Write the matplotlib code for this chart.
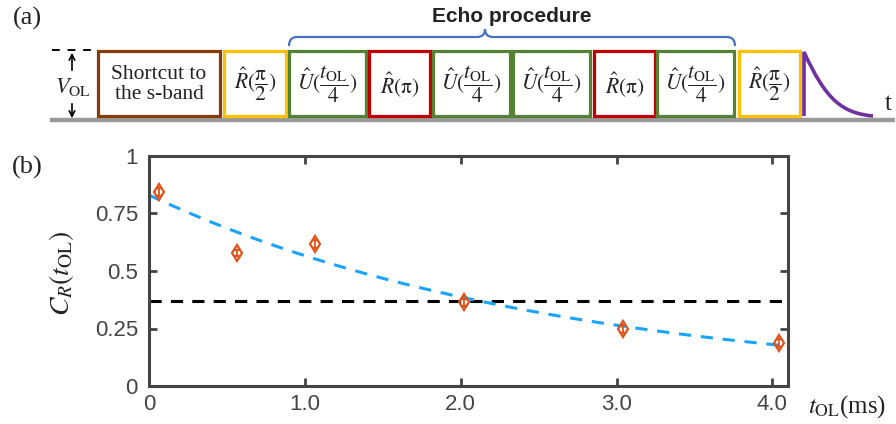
import matplotlib
matplotlib.use("Agg")
import matplotlib.pyplot as plt
import numpy as np
from matplotlib.patches import Rectangle, PathPatch
from matplotlib.path import Path

plt.rcParams["mathtext.fontset"] = "stix"
plt.rcParams["font.family"] = ["Liberation Sans", "DejaVu Sans"]

# ---- data (panel b) ----
t_ol = [0.064, 0.565, 1.066, 2.02, 3.04, 4.04]
c_r = [0.843, 0.578, 0.617, 0.365, 0.248, 0.187]
c_r_err = [0.016, 0.014, 0.016, 0.015, 0.017, 0.016]
fit_amp = 0.83
fit_tau = 2.62
threshold = 0.368
x_ticks = [0, 1.0, 2.0, 3.0, 4.0]
x_tick_labels = ["0", "1.0", "2.0", "3.0", "4.0"]
y_ticks = [0, 0.25, 0.5, 0.75, 1]
y_tick_labels = ["0", "0.25", "0.5", "0.75", "1"]

# ---- pulse sequence (panel a), pixel coordinates ----
seq_labels = ["Shortcut to\nthe s-band",
              r"$\hat{R}(\dfrac{\mathrm{\pi}}{2})$",
              r"$\hat{U}(\dfrac{t_{\mathrm{OL}}}{4})$",
              r"$\hat{R}(\mathrm{\pi})$",
              r"$\hat{U}(\dfrac{t_{\mathrm{OL}}}{4})$",
              r"$\hat{U}(\dfrac{t_{\mathrm{OL}}}{4})$",
              r"$\hat{R}(\mathrm{\pi})$",
              r"$\hat{U}(\dfrac{t_{\mathrm{OL}}}{4})$",
              r"$\hat{R}(\dfrac{\mathrm{\pi}}{2})$"]
seq_x0 = [98, 224, 289, 369, 433, 513, 594, 657, 739]
seq_x1 = [220, 286, 366, 430, 510, 590, 655, 734, 800]
seq_colors = ["#843C0C", "#FFC000", "#548235", "#C00000", "#548235",
              "#548235", "#C00000", "#548235", "#FFC000"]

W, H = 896, 424
fig = plt.figure(figsize=(W / 100, H / 100), dpi=100)

# overlay in pixel coordinates for the schematic and outer labels
ov = fig.add_axes([0, 0, 1, 1])
ov.set_xlim(0, W)
ov.set_ylim(H, 0)
ov.axis("off")

serif = ["Liberation Serif", "DejaVu Serif"]

# baseline
ov.plot([50, 895], [120, 120], color="#9A9A9A", lw=3.2, solid_capstyle="butt")

box_top, box_bot = 51, 116
for lab, x0, x1, col in zip(seq_labels, seq_x0, seq_x1, seq_colors):
    ov.add_patch(Rectangle((x0, box_top), x1 - x0, box_bot - box_top,
                           facecolor="white", edgecolor=col, lw=2.3, zorder=3))
    fs = 15.5 if "Shortcut" in lab else 15.5
    ov.text((x0 + x1) / 2, (box_top + box_bot) / 2 + 1, lab, ha="center",
            va="center", fontsize=fs, family=serif, color="#222222",
            linespacing=1.05, zorder=4)

# V_OL marker
ov.plot([52, 94], [50, 50], color="black", lw=1.4, dashes=(4, 4))
ov.annotate("", xy=(72, 50), xytext=(72, 73),
            arrowprops=dict(arrowstyle="->", color="black", lw=1.2))
ov.annotate("", xy=(72, 121), xytext=(72, 101),
            arrowprops=dict(arrowstyle="->", color="black", lw=1.2))
ov.text(73, 87, r"$V_{\mathrm{OL}}$", ha="center", va="center", fontsize=16,
        color="#222222")

# read-out decay
decay = Path([(804, 116), (804, 52), (826, 100), (842, 113), (873, 116)],
             [Path.MOVETO, Path.LINETO, Path.CURVE4, Path.CURVE4, Path.CURVE4])
ov.add_patch(PathPatch(decay, facecolor="none", edgecolor="#7030A0", lw=2.6,
                       zorder=3))
ov.text(888, 104, "t", ha="center", va="center", fontsize=18, family=serif,
        color="#222222")

# brace over the echo procedure
bx0, bx1, bmid, by, bend, btip = 289, 735, 485, 37, 46, 29
brace = Path([(bx0, bend), (bx0, by), (bx0 + 8, by),
              (bmid - 8, by), (bmid, by), (bmid, btip),
              (bmid, by), (bmid + 8, by),
              (bx1 - 8, by), (bx1, by), (bx1, bend)],
             [Path.MOVETO, Path.CURVE3, Path.CURVE3,
              Path.LINETO, Path.CURVE3, Path.CURVE3,
              Path.CURVE3, Path.CURVE3,
              Path.LINETO, Path.CURVE3, Path.CURVE3])
ov.add_patch(PathPatch(brace, facecolor="none", edgecolor="#4472C4", lw=1.6))
ov.text(512, 16, "Echo procedure", ha="center", va="center", fontsize=15,
        fontweight="bold", family=["Liberation Sans", "DejaVu Sans"],
        color="#222222")

ov.text(27, 18, "(a)", ha="center", va="center", fontsize=19, family=serif,
        color="#222222")
ov.text(27, 167, "(b)", ha="center", va="center", fontsize=19, family=serif,
        color="#222222")

# ---- panel (b) ----
ax = fig.add_axes([149 / W, 1 - 386 / H, (788 - 149) / W, (386 - 156) / H])
ax.set_xlim(0, 4.1)
ax.set_ylim(0, 1)

ax.plot([0, 4.1], [threshold, threshold], color="black", lw=2.2,
        dashes=(4, 3), zorder=2)
tf = np.linspace(0, 4.1, 200)
ax.plot(tf, fit_amp * np.exp(-tf / fit_tau), color="#1AA3FF", lw=2.2,
        dashes=(4, 3.2), zorder=2)
ax.errorbar(t_ol, c_r, yerr=c_r_err, fmt="d", ms=8, mfc="none", mec="#E0531A",
            mew=1.6, ecolor="#E0531A", elinewidth=1.3, capsize=2, zorder=3)

ax.set_xticks(x_ticks)
ax.set_xticklabels(x_tick_labels)
ax.set_yticks(y_ticks)
ax.set_yticklabels(y_tick_labels)
ax.tick_params(direction="in", length=6, width=2, colors="#444444",
               labelsize=16, top=True, right=True, pad=6)
ax.tick_params(axis="y", pad=8)
for s in ax.spines.values():
    s.set_linewidth(2.2)
    s.set_color("#444444")

ov.text(61, 273, r"$C_R(t_{\mathrm{OL}})$", ha="center", va="center",
        fontsize=20, rotation=90, color="#222222")
ov.text(847, 407, r"$t_{\mathrm{OL}}$(ms)", ha="center", va="center",
        fontsize=18, family=serif, color="#222222")

fig.savefig("out.png", dpi=100)
